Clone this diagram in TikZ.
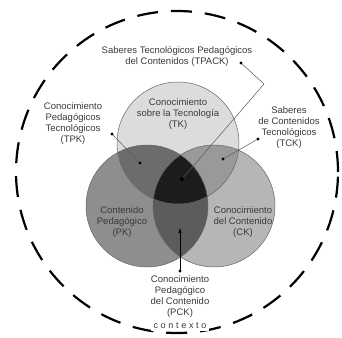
\documentclass[tikz,border=0pt]{standalone}
\usepackage{fontspec}
\setmainfont{Liberation Sans}
\usepackage{tikz}
\usetikzlibrary{arrows.meta}

\definecolor{tkgray}{HTML}{DCDCDC}
\definecolor{pkgray}{HTML}{8E8E8E}
\definecolor{ckgray}{HTML}{B6B6B6}
\definecolor{tpkgray}{HTML}{6C6C6C}
\definecolor{tckgray}{HTML}{999999}
\definecolor{pckgray}{HTML}{5C5C5C}
\definecolor{tpackgray}{HTML}{1C1C1C}
\definecolor{txtgray}{HTML}{3A3A3A}

\begin{document}
\begin{tikzpicture}[x=1pt,y=-1pt,
	lbl/.style={align=center, inner sep=0pt, text=txtgray, font=\fontsize{9.5}{11}\selectfont},
	ring/.style={draw=black!60, line width=0.5pt},
	link/.style={draw=black!65, line width=0.5pt},
	dot/.style={fill=black}]
	\useasboundingbox [fill=white] (0,0) rectangle (342,337);
	\coordinate (tk) at (178,143);
	\coordinate (pk) at (147,206);
	\coordinate (ck) at (214,206);
	\coordinate (ctx) at (177,172);
	\draw [dash pattern=on 21pt off 13pt, line width=2.2pt] (ctx) circle (161pt);
	\fill [pkgray] (pk) circle (61pt);
	\fill [ckgray] (ck) circle (61pt);
	\fill [tkgray] (tk) circle (61pt);
	\begin{scope}
		\clip (tk) circle (61pt);
		\fill [tpkgray] (pk) circle (61pt);
		\fill [tckgray] (ck) circle (61pt);
	\end{scope}
	\begin{scope}
		\clip (pk) circle (61pt);
		\fill [pckgray] (ck) circle (61pt);
		\clip (ck) circle (61pt);
		\fill [tpackgray] (tk) circle (61pt);
	\end{scope}
	\draw [ring] (pk) circle (61pt);
	\draw [ring] (ck) circle (61pt);
	\draw [ring] (tk) circle (61pt);
	\node [lbl] (tpack) at (177,56) {Saberes Tecnológicos Pedagógicos\\del Contenidos (TPACK)};
	\node [lbl] (tktxt) at (178,114) {Conocimiento\\sobre la Tecnología\\(TK)};
	\node [lbl] (pktxt) at (122,222) {Contenido\\Pedagógico\\(PK)};
	\node [lbl] (cktxt) at (243,222) {Conocimiento\\del Contenido\\(CK)};
	\node [lbl] (tpk) at (73,124) {Conocimiento\\Pedagógicos\\Tecnológicos\\(TPK)};
	\node [lbl] (tck) at (289,128) {Saberes\\de Contenidos\\Tecnológicos\\(TCK)};
	\node [lbl] (pck) at (180,297) {Conocimiento\\Pedagógico\\del Contenido\\(PCK)};
	\node [lbl, fill=white, inner xsep=3pt, inner ysep=2pt, font=\fontsize{9}{10}\selectfont\addfontfeature{LetterSpace=30}] (contexto) at (180,326) {contexto};
	\coordinate (tpackdot) at (241,63);
	\coordinate (tpackbend) at (264,84);
	\coordinate (tpackend) at (182,179);
	\coordinate (tpkdot) at (112,134);
	\coordinate (tpkend) at (140,163);
	\coordinate (tckdot) at (258,139);
	\coordinate (tckend) at (223,159);
	\coordinate (pckdot) at (180,271);
	\coordinate (pckend) at (180,228);
	\draw [link] (tpackdot) -- (tpackbend) -- (tpackend);
	\draw [link] (tpkdot) -- (tpkend);
	\draw [link] (tckdot) -- (tckend);
	\draw [link, draw=black, -{Latex[length=5pt,width=3.5pt]}] (pckdot) -- (pckend);
	\foreach \p in {tpackdot,tpkdot,tpkend,tckdot,tckend,pckdot}
		\fill [dot] (\p) circle (1.6pt);
	\fill [black] (tpackend) circle (2pt);
\end{tikzpicture}
\end{document}
